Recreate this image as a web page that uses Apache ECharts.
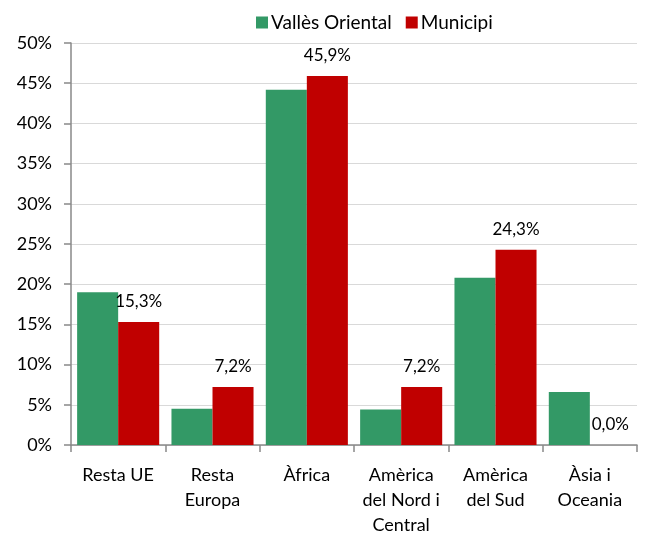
<!DOCTYPE html>
<html><head><meta charset="utf-8">
<script src="https://cdn.jsdelivr.net/npm/echarts@6/dist/echarts.min.js"></script>
<style>html,body{margin:0;padding:0;background:#fff}#c{width:645px;height:533px}</style>
</head><body><div id="c"></div>
<script>
const categories = ["Resta UE", "Resta\nEuropa", "Àfrica", "Amèrica\ndel Nord i\nCentral", "Amèrica\ndel Sud", "Àsia i\nOceania"];
const vallesOriental = [19.0, 4.5, 44.2, 4.4, 20.8, 6.6];
const municipi = [15.3, 7.2, 45.9, 7.2, 24.3, 0.0];
const seriesNames = ["Vallès Oriental", "Municipi"];
const font = "Lato, 'Open Sans', sans-serif";
const chart = echarts.init(document.getElementById('c'));
chart.setOption({
  animation: false,
  textStyle: {fontFamily: font},
  legend: {
    top: 8, left: 251,
    itemWidth: 12, itemHeight: 12, itemGap: 14,
    icon: 'rect',
    textStyle: {fontSize: 19, color: '#000', fontFamily: font, padding: [0,0,0,-2]},
    data: seriesNames
  },
  grid: {left: 71, right: 8, top: 43, bottom: 88, containLabel: false, outerBoundsMode: 'none'},
  xAxis: {
    type: 'category', data: categories,
    axisLine: {lineStyle: {color: '#898989', width: 1.5}},
    axisTick: {show: true, length: 7, lineStyle: {color: '#898989', width: 1.5}},
    axisLabel: {fontSize: 18, color: '#000', lineHeight: 25, margin: 18, interval: 0, fontFamily: font}
  },
  yAxis: {
    type: 'value', min: 0, max: 50, interval: 5,
    axisLine: {show: true, lineStyle: {color: '#898989', width: 1.5}},
    axisTick: {show: true, length: 7, lineStyle: {color: '#898989', width: 1.5}},
    splitLine: {lineStyle: {color: '#d9d9d9', width: 1}},
    axisLabel: {fontSize: 18, color: '#000', margin: 19, formatter: '{value}%', fontFamily: font}
  },
  series: [
    {name: seriesNames[0], type: 'bar', data: vallesOriental, barGap: '0%', barCategoryGap: '13%',
     itemStyle: {color: '#339966'}},
    {name: seriesNames[1], type: 'bar', data: municipi, barGap: '0%', barCategoryGap: '13%',
     itemStyle: {color: '#C00000'},
     label: {show: true, position: 'top', distance: 12, fontSize: 17, color: '#000', fontFamily: font,
       formatter: p => p.value.toFixed(1).replace('.', ',') + '%'}}
  ]
});
</script></body></html>
